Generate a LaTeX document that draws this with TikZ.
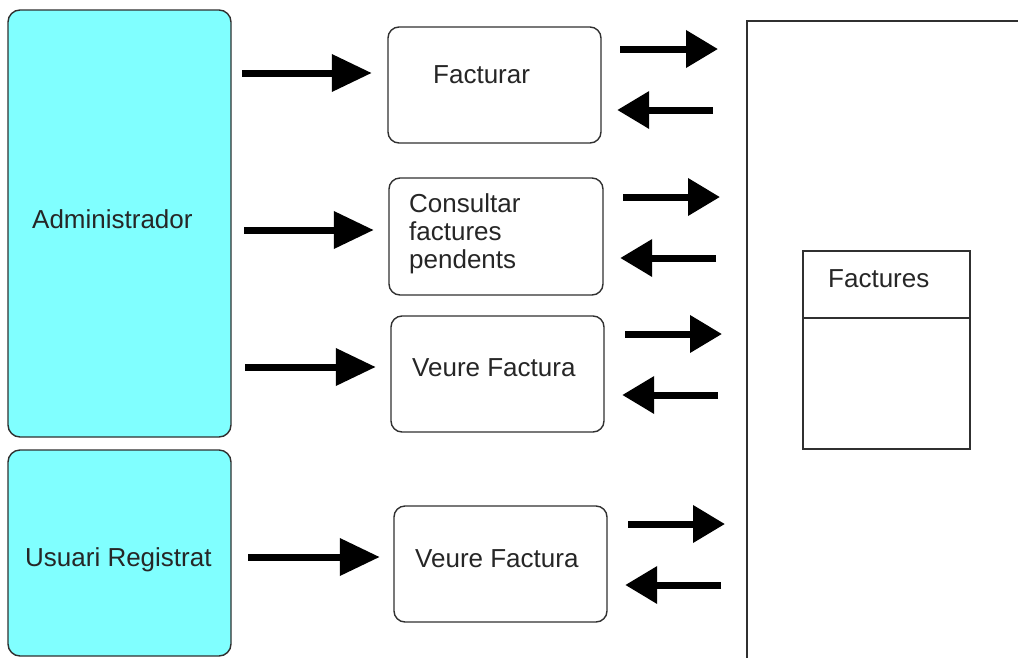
\documentclass[tikz,border=0pt]{standalone}
\usepackage{fontspec}
\setmainfont{Liberation Sans}
\usetikzlibrary{arrows.meta}
\definecolor{actorfill}{HTML}{80FFFF}
\definecolor{edge}{HTML}{303030}
\tikzset{
  actor/.style={draw=edge, line width=1.4pt, fill=actorfill, rounded corners=12pt},
  func/.style={draw=edge, line width=1.4pt, fill=white, rounded corners=11pt},
  lbl/.style={inner sep=0pt, anchor=base west, text=black!85, font=\fontsize{26}{28}\selectfont},
  bigarrow/.style={line width=7pt, -{Triangle[length=40pt,width=36pt]}},
  smallarrow/.style={line width=7pt, -{Triangle[length=32pt,width=36pt]}},
}
\begin{document}
\begin{tikzpicture}[x=1pt,y=-1pt]
\useasboundingbox (0,0) rectangle (1018,657);
\clip (0,0) rectangle (1018,657);
% actors
\draw[actor] (8,10) rectangle (231,437);
\node (adm) at (119.5,223.5) [minimum width=223pt, minimum height=427pt] {};
\draw[actor] (8,450) rectangle (231,656);
\node (usr) at (119.5,553) [minimum width=223pt, minimum height=206pt] {};
\node[lbl] (admt) at (32,228) {Administrador};
\node[lbl] (usrt) at (25,566) {Usuari Registrat};
% functions
\draw[func] (388,27) rectangle (601,143);
\node (f1) at (494.5,85) [minimum width=213pt, minimum height=116pt] {};
\draw[func] (389,178) rectangle (603,295);
\node (f2) at (496,236.5) [minimum width=214pt, minimum height=117pt] {};
\draw[func] (391,316) rectangle (604,432);
\node (f3) at (497.5,374) [minimum width=213pt, minimum height=116pt] {};
\draw[func] (394,506) rectangle (607,622);
\node (f4) at (500.5,564) [minimum width=213pt, minimum height=116pt] {};
\node[lbl] (f1t) at (433,83) {Facturar};
\node[inner sep=0pt, anchor=west, align=left, text=black!85, font=\fontsize{26}{28}\selectfont] (f2t) at (409,234) {Consultar\\factures\\pendents};
\node[lbl] (f3t) at (412,376) {Veure Factura};
\node[lbl] (f4t) at (415,567) {Veure Factura};
% database area
\coordinate (dbtl) at (747,21);
\draw[draw=edge, line width=1.6pt] (1030,21) -- (dbtl) -- (747,670);
\draw[draw=edge, line width=1.3pt] (803,251) rectangle (970,449);
\draw[draw=edge, line width=1.3pt] (803,318) -- (970,318);
\node (tab) at (886.5,350) [minimum width=167pt, minimum height=198pt] {};
\node[lbl] (tabt) at (828,287) {Factures};
% actor -> function arrows
\draw[bigarrow] ([xshift=11pt]adm.east |- 0,73) -- ([xshift=-16pt]f1.west |- 0,73);
\draw[bigarrow] ([xshift=13pt]adm.east |- 0,230) -- ([xshift=-15pt]f2.west |- 0,230);
\draw[bigarrow] ([xshift=14pt]adm.east |- 0,367) -- ([xshift=-15pt]f3.west |- 0,367);
\draw[bigarrow] ([xshift=17pt]usr.east |- 0,557) -- ([xshift=-14pt]f4.west |- 0,557);
% function <-> database arrows
\draw[smallarrow] ([xshift=19pt]f1.east |- 0,49) -- ([xshift=-29pt]dbtl |- 0,49);
\draw[smallarrow] ([xshift=-34pt]dbtl |- 0,110) -- ([xshift=16pt]f1.east |- 0,110);
\draw[smallarrow] ([xshift=20pt]f2.east |- 0,197) -- ([xshift=-27pt]dbtl |- 0,197);
\draw[smallarrow] ([xshift=-31pt]dbtl |- 0,258) -- ([xshift=17pt]f2.east |- 0,258);
\draw[smallarrow] ([xshift=21pt]f3.east |- 0,334) -- ([xshift=-25pt]dbtl |- 0,334);
\draw[smallarrow] ([xshift=-29pt]dbtl |- 0,395) -- ([xshift=18pt]f3.east |- 0,395);
\draw[smallarrow] ([xshift=21pt]f4.east |- 0,524) -- ([xshift=-22pt]dbtl |- 0,524);
\draw[smallarrow] ([xshift=-26pt]dbtl |- 0,585) -- ([xshift=18pt]f4.east |- 0,585);
\end{tikzpicture}
\end{document}
